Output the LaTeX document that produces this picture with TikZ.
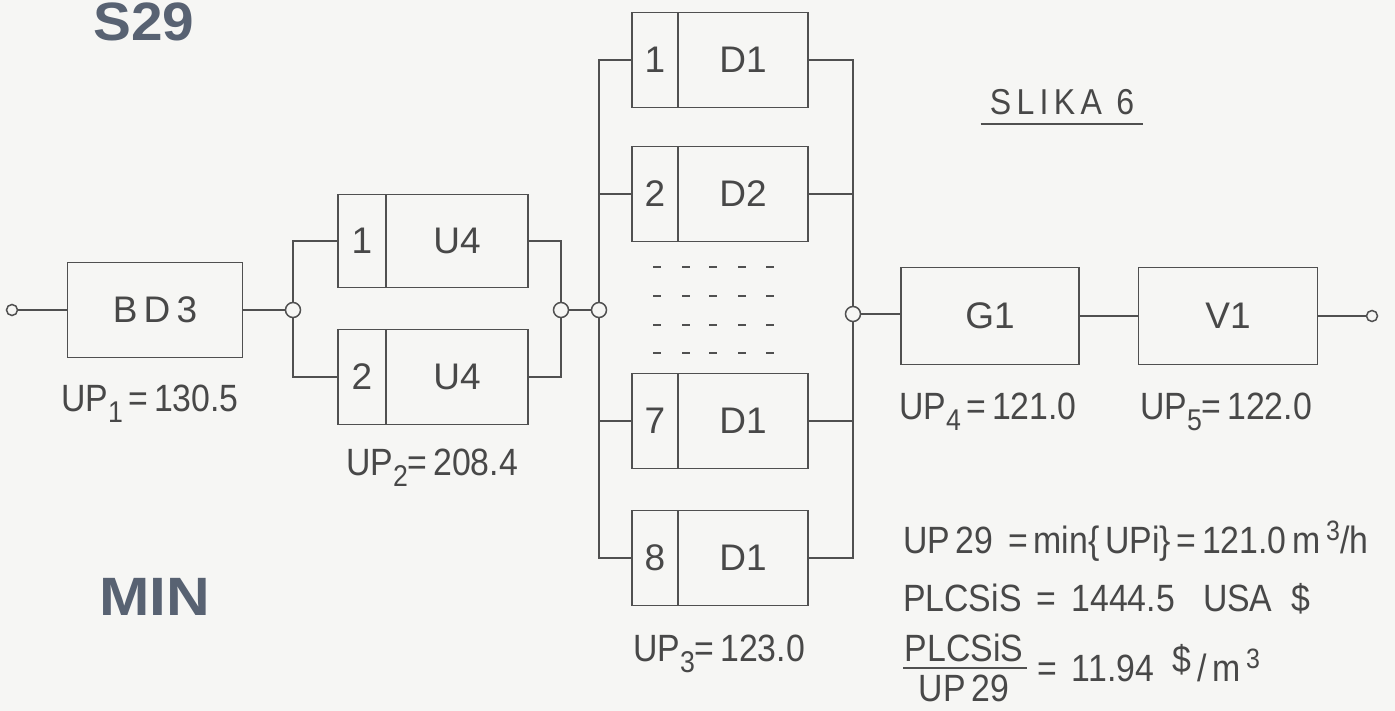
\documentclass[tikz,border=0pt]{standalone}
\usepackage{fontspec}
\setmainfont{Liberation Sans}
\definecolor{ink}{RGB}{72,72,72}
\definecolor{wirec}{RGB}{80,80,80}
\definecolor{titlec}{RGB}{88,98,114}
\definecolor{paper}{RGB}{246,246,244}
\newcommand\myLbl{\fontsize{38}{44}\selectfont}
\newcommand\myBoxF{\fontsize{37}{42}\selectfont}
\newcommand\mySub[1]{\raisebox{-11pt}{\fontsize{30}{30}\selectfont #1}}
\newcommand\mySup[1]{\raisebox{13pt}{\fontsize{28}{28}\selectfont #1}}
\tikzset{
  wire/.style={draw=wirec, line width=1.5pt},
  cell/.style={draw=wirec, line width=1.7pt, inner sep=0pt, outer sep=0pt,
               minimum height=95pt, font=\myBoxF, text=ink},
  junc/.style={circle, draw=wirec, line width=1.5pt, fill=paper,
               minimum size=15pt, inner sep=0pt},
  term/.style={circle, draw=wirec, line width=1.5pt, fill=paper,
               minimum size=11pt, inner sep=0pt},
  lbl/.style={font=\myLbl, text=ink, inner sep=0pt, xscale=0.89},
  big/.style={font=\fontsize{54}{58}\selectfont\bfseries, text=titlec, inner sep=0pt}
}
\begin{document}
\begin{tikzpicture}[x=1pt,y=-1pt]
\fill[paper] (0,0) rectangle (1395,711);
\useasboundingbox (0,0) rectangle (1395,711);

% titles
\node[big, xscale=1.05] (s29) at (144,22) {S29};
\node[big, xscale=1.12] (min) at (155,597) {MIN};
\node[lbl, xscale=1.0, font=\fontsize{36}{40}\selectfont] (slika) at (1062,102) {S\,L\,I\,K\,A\, 6};
\draw[wirec, line width=2.6pt] ([xshift=-9pt,yshift=-9pt]slika.south west) -- ([xshift=9pt,yshift=-9pt]slika.south east);

% main left chain
\node[term] (in) at (12,310) {};
\node[cell, minimum width=175pt] (bd3) at (155,310) {B\,D\,3};
\node[junc] (j1) at (293,310) {};
\draw[wire] (in) -- (bd3);
\draw[wire] (bd3) -- (j1);

% U4 parallel pair
\node[cell, minimum width=48pt, minimum height=93pt, anchor=west] (u1n) at (338,241) {1};
\node[cell, minimum width=142pt, minimum height=93pt, anchor=west] (u1) at (u1n.east) {U4};
\node[cell, minimum width=48pt, anchor=west] (u2n) at (338,377) {2};
\node[cell, minimum width=142pt, anchor=west] (u2) at (u2n.east) {U4};
\draw[wire] (j1) |- (u1n.west);
\draw[wire] (j1) |- (u2n.west);
\node[junc] (j2) at (561,310) {};
\draw[wire] (u1.east) -| (j2);
\draw[wire] (u2.east) -| (j2);
\node[junc] (j3) at (599,310) {};
\draw[wire] (j2) -- (j3);

% D parallel group
\node[cell, minimum width=46pt, anchor=west] (d1n) at (632,60) {1};
\node[cell, minimum width=130pt, anchor=west] (d1) at (d1n.east) {D1};
\node[cell, minimum width=46pt, anchor=west] (d2n) at (632,194) {2};
\node[cell, minimum width=130pt, anchor=west] (d2) at (d2n.east) {D2};
\node[cell, minimum width=46pt, anchor=west] (d7n) at (632,421) {7};
\node[cell, minimum width=130pt, anchor=west] (d7) at (d7n.east) {D1};
\node[cell, minimum width=46pt, anchor=west] (d8n) at (632,558) {8};
\node[cell, minimum width=130pt, anchor=west] (d8) at (d8n.east) {D1};
\foreach \b in {d1n,d2n,d7n,d8n} \draw[wire] (j3) |- (\b.west);
\node[junc] (j4) at (853,314) {};
\foreach \b in {d1,d2,d7,d8} \draw[wire] (\b.east) -| (j4);
\foreach \yy in {267,296,325,353}
  \foreach \xx in {657,686,713,742,770}
    \draw[wirec, line width=1.8pt] (\xx-4,\yy) -- (\xx+4,\yy);

% right chain
\node[cell, minimum width=178pt, minimum height=97pt] (g1) at (990,316) {G1};
\node[cell, minimum width=179pt, minimum height=97pt] (v1) at (1228,316) {V1};
\node[term] (out) at (1372,316) {};
\draw[wire] (j4) -- (j4 -| g1.west);
\draw[wire] (g1) -- (v1);
\draw[wire] (v1) -- (out);

% UP labels
\node[lbl] (up1) at (150,404) {UP\mySub{1}\,=\,130.5};
\node[lbl] (up2) at (432,468) {UP\mySub{2}=\,208.4};
\node[lbl] (up3) at (719,654) {UP\mySub{3}=\,123.0};
\node[lbl] (up4) at (988,412) {UP\mySub{4}\,=\,121.0};
\node[lbl] (up5) at (1226,412) {UP\mySub{5}=\,122.0};

% formulas
\node[lbl, anchor=base west] (f1) at (903,553) {UP\,29 \,=\,min\{\,UPi\}\,=\,121.0\,m\,\mySup{3}/h};
\node[lbl, anchor=base west] (f2) at (903,611) {PLCSiS \,=\, 1444.5 \ \ USA \ \$};
\node[lbl] (num) at (964,648) {PLCSiS};
\node[lbl] (den) at (964,688) {UP\,29};
\draw[wirec, line width=2.2pt] (903,668) -- (1027,668);
\node[lbl, anchor=base west] (f3) at (1037,681) {=\, 11.94 \ \raisebox{9pt}{\$}\,/\,m\,\mySup{3}};
\end{tikzpicture}
\end{document}
